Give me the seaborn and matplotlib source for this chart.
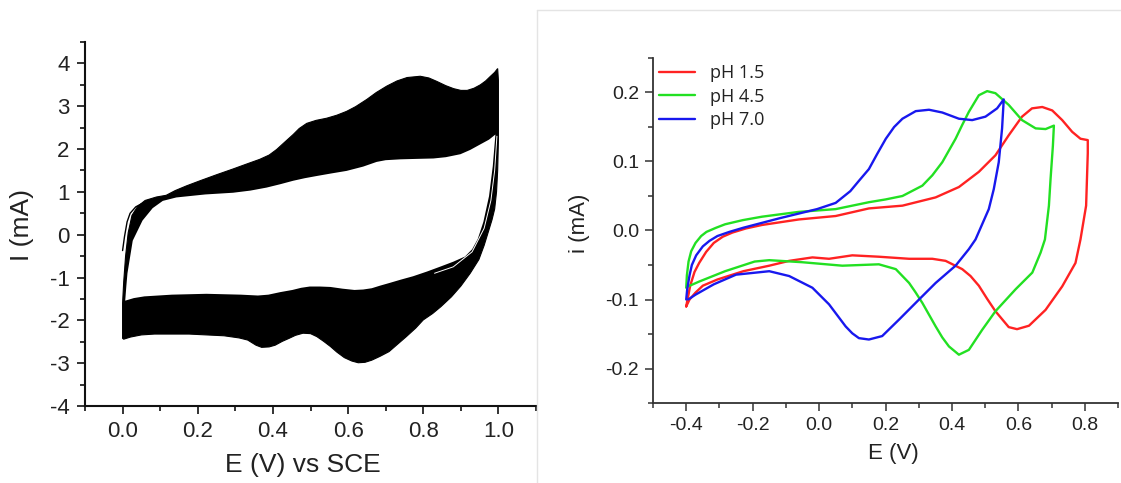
import numpy as np
import pandas as pd
import matplotlib
matplotlib.use("Agg")
import matplotlib.pyplot as plt
from matplotlib.ticker import MultipleLocator, FormatStrFormatter
import seaborn as sns

# ---- left panel: band of repeated CV cycles (outer contour and inner hole) ----
outer_E = [0.000, 0.000, 0.003, 0.008, 0.015, 0.025, 0.040, 0.060, 0.090, 0.116, 0.140, 0.170,
           0.205, 0.250, 0.294, 0.330, 0.365, 0.390, 0.410, 0.430, 0.454, 0.470, 0.490, 0.515,
           0.543, 0.570, 0.596, 0.620, 0.650, 0.675, 0.703, 0.730, 0.757, 0.792, 0.815, 0.836,
           0.860, 0.881, 0.900, 0.917, 0.935, 0.952, 0.966, 0.979, 0.990, 0.998,
           1.000, 1.000, 0.998, 0.995, 0.990, 0.983, 0.975, 0.962, 0.948, 0.925, 0.900, 0.875,
           0.847, 0.825, 0.800, 0.780, 0.755, 0.730, 0.709, 0.685, 0.663, 0.645, 0.627, 0.610,
           0.590, 0.570, 0.553, 0.535, 0.517, 0.500, 0.480, 0.460, 0.443, 0.425, 0.406, 0.390,
           0.370, 0.355, 0.333, 0.310, 0.270, 0.177, 0.085, 0.050, 0.021, 0.003]
outer_I = [-2.42, -1.60, -1.10, -0.50, 0.05, 0.45, 0.66, 0.80, 0.88, 0.92, 1.03, 1.14,
           1.256, 1.40, 1.535, 1.65, 1.76, 1.86, 1.99, 2.15, 2.34, 2.48, 2.60, 2.67,
           2.72, 2.79, 2.88, 2.99, 3.16, 3.32, 3.47, 3.59, 3.67, 3.70, 3.66, 3.58,
           3.48, 3.41, 3.37, 3.37, 3.42, 3.50, 3.59, 3.70, 3.79, 3.88,
           3.60, 2.20, 1.50, 1.00, 0.60, 0.35, 0.12, -0.25, -0.58, -0.90, -1.20, -1.45,
           -1.68, -1.84, -1.99, -2.18, -2.38, -2.57, -2.73, -2.84, -2.93, -2.98, -2.99, -2.95,
           -2.87, -2.74, -2.61, -2.49, -2.38, -2.31, -2.30, -2.35, -2.42, -2.49, -2.58, -2.62,
           -2.63, -2.58, -2.46, -2.41, -2.36, -2.32, -2.32, -2.34, -2.39, -2.44]

inner_E = [0.007, 0.030, 0.058, 0.131, 0.223, 0.315, 0.360, 0.388, 0.420, 0.452, 0.475, 0.498,
           0.525, 0.553, 0.585, 0.617, 0.640, 0.663, 0.685, 0.709, 0.740, 0.773, 0.810, 0.847,
           0.880, 0.911, 0.930, 0.945, 0.960, 0.975, 0.985, 0.992,
           0.975, 0.952, 0.925, 0.899, 0.860, 0.827, 0.780, 0.739, 0.700, 0.676, 0.640, 0.596,
           0.555, 0.516, 0.485, 0.454, 0.420, 0.383, 0.340, 0.294, 0.220, 0.143, 0.107, 0.080,
           0.053, 0.027, 0.013, 0.010]
inner_I = [-1.54, -1.48, -1.44, -1.40, -1.38, -1.40, -1.42, -1.40, -1.34, -1.29, -1.24, -1.21,
           -1.21, -1.22, -1.26, -1.29, -1.28, -1.25, -1.19, -1.13, -1.05, -0.97, -0.86, -0.74,
           -0.63, -0.51, -0.34, -0.10, 0.30, 0.90, 1.60, 2.34,
           2.22, 2.11, 1.98, 1.88, 1.81, 1.78, 1.77, 1.76, 1.74, 1.70, 1.59, 1.49,
           1.43, 1.37, 1.32, 1.26, 1.18, 1.10, 1.03, 0.98, 0.94, 0.87, 0.79, 0.62,
           0.33, -0.14, -0.90, -1.20]

# first-cycle trace at the start, separated from the band
start_E = [0.000, 0.005, 0.012, 0.020, 0.035, 0.050, 0.070]
start_I = [-0.37, -0.05, 0.30, 0.50, 0.65, 0.72, 0.80]

# early-cycle trace on the reverse sweep (shows as a light gap in the band)
gap_E = [0.996, 0.990, 0.980, 0.962, 0.930, 0.880, 0.830]
gap_I = [2.30, 1.50, 0.80, 0.15, -0.40, -0.75, -0.90]

# ---- right panel: CVs at three pH values ----
red_E = [-0.400, -0.396, -0.388, -0.375, -0.361, -0.340, -0.317, -0.290, -0.261, -0.220, -0.172,
         -0.061, 0.050, 0.150, 0.251, 0.351, 0.421, 0.481, 0.531, 0.571, 0.611, 0.641, 0.672,
         0.702, 0.732, 0.762, 0.787, 0.809, 0.809, 0.804, 0.787, 0.772, 0.732, 0.682, 0.632,
         0.596, 0.571, 0.531, 0.506, 0.481, 0.456, 0.431, 0.381, 0.341, 0.271, 0.180, 0.100,
         0.030, -0.020, -0.090, -0.150, -0.228, -0.306, -0.350, -0.372, -0.390, -0.400]
red_i = [-0.110, -0.100, -0.080, -0.060, -0.047, -0.031, -0.018, -0.009, -0.003, 0.003, 0.008,
         0.016, 0.021, 0.032, 0.036, 0.048, 0.063, 0.085, 0.109, 0.138, 0.165, 0.177, 0.179,
         0.174, 0.160, 0.143, 0.133, 0.131, 0.112, 0.036, -0.013, -0.047, -0.081, -0.115, -0.138,
         -0.143, -0.140, -0.117, -0.099, -0.080, -0.066, -0.056, -0.044, -0.041, -0.041, -0.038, -0.036,
         -0.041, -0.039, -0.044, -0.051, -0.059, -0.071, -0.080, -0.090, -0.100, -0.110]

green_E = [-0.400, -0.398, -0.393, -0.385, -0.372, -0.355, -0.339, -0.310, -0.283, -0.230, -0.172,
           -0.061, 0.050, 0.150, 0.200, 0.251, 0.311, 0.341, 0.371, 0.411, 0.431, 0.451, 0.481,
           0.506, 0.531, 0.571, 0.611, 0.652, 0.682, 0.707, 0.704, 0.697, 0.692, 0.680, 0.667,
           0.642, 0.592, 0.531, 0.491, 0.451, 0.421, 0.391, 0.371, 0.351, 0.311, 0.291, 0.271,
           0.231, 0.180, 0.070, -0.050, -0.150, -0.194, -0.283, -0.361, -0.394]
green_i = [-0.083, -0.065, -0.045, -0.030, -0.018, -0.008, -0.002, 0.004, 0.009, 0.015, 0.020,
           0.027, 0.031, 0.041, 0.045, 0.050, 0.065, 0.080, 0.099, 0.133, 0.153, 0.172, 0.196,
           0.202, 0.199, 0.182, 0.160, 0.148, 0.147, 0.152, 0.123, 0.075, 0.036, -0.013, -0.032,
           -0.061, -0.085, -0.117, -0.144, -0.173, -0.180, -0.168, -0.155, -0.139, -0.105, -0.090, -0.076,
           -0.056, -0.049, -0.051, -0.046, -0.043, -0.045, -0.059, -0.074, -0.081]

blue_E = [-0.400, -0.397, -0.390, -0.383, -0.370, -0.350, -0.330, -0.306, -0.270, -0.228, -0.117,
          -0.006, 0.050, 0.094, 0.120, 0.150, 0.175, 0.201, 0.226, 0.251, 0.291, 0.331, 0.371,
          0.421, 0.461, 0.501, 0.536, 0.556, 0.551, 0.541, 0.526, 0.511, 0.471, 0.451, 0.411,
          0.351, 0.301, 0.241, 0.190, 0.150, 0.120, 0.100, 0.080, 0.030, -0.020, -0.090, -0.150,
          -0.250, -0.317, -0.372, -0.394]
blue_i = [-0.100, -0.085, -0.065, -0.050, -0.036, -0.023, -0.015, -0.008, -0.002, 0.004, 0.018,
          0.031, 0.040, 0.057, 0.072, 0.089, 0.111, 0.133, 0.150, 0.162, 0.173, 0.175, 0.171,
          0.162, 0.160, 0.165, 0.177, 0.190, 0.148, 0.099, 0.060, 0.031, -0.013, -0.027, -0.051,
          -0.076, -0.100, -0.129, -0.153, -0.158, -0.156, -0.149, -0.139, -0.107, -0.083, -0.066, -0.059,
          -0.064, -0.078, -0.093, -0.100]

ph_labels = ["pH 1.5", "pH 4.5", "pH 7.0"]
ph_colors = ["#ff2222", "#22e022", "#1818ee"]

sns.set_theme(style="ticks")
plt.rcParams["font.family"] = ["Liberation Sans", "DejaVu Sans"]
plt.rcParams["axes.unicode_minus"] = False

fig = plt.figure(figsize=(11.21, 4.83), dpi=100)
fig.patch.set_facecolor("white")

# thin frame of the right-hand picture
fig.add_artist(plt.Line2D([537 / 1121, 1.0], [1 - 10 / 483, 1 - 10 / 483], color="#e4e4e4", lw=1.0))
fig.add_artist(plt.Line2D([537 / 1121, 537 / 1121], [0.0, 1 - 10 / 483], color="#e4e4e4", lw=1.0))

ax1 = fig.add_axes([85 / 1121, 77 / 483, 451 / 1121, 364 / 483])
ax2 = fig.add_axes([653 / 1121, 80 / 483, 465 / 1121, 345 / 483])

# left panel
ax1.fill(outer_E, outer_I, color="black", lw=0.8, zorder=2)
ax1.fill(inner_E, inner_I, color="white", lw=0, zorder=3)
sns.lineplot(x=start_E, y=start_I, sort=False, estimator=None, color="black", lw=1.0, ax=ax1, zorder=4)
sns.lineplot(x=gap_E, y=gap_I, sort=False, estimator=None, color="white", lw=0.7, ax=ax1, zorder=4)

ax1.set_xlim(-0.1, 1.1)
ax1.set_ylim(-4, 4.5)
ax1.set_xticks([0.0, 0.2, 0.4, 0.6, 0.8, 1.0])
ax1.xaxis.set_minor_locator(MultipleLocator(0.1))
ax1.yaxis.set_major_locator(MultipleLocator(1))
ax1.yaxis.set_minor_locator(MultipleLocator(0.5))
ax1.xaxis.set_major_formatter(FormatStrFormatter("%.1f"))
ax1.set_xlabel("E (V) vs SCE", fontsize=19, color="#222222")
ax1.set_ylabel("I (mA)", fontsize=19, color="#222222")
ax1.xaxis.set_label_coords(0.483, -0.162)
ax1.yaxis.set_label_coords(-0.14, 0.497)
ax1.xaxis.label.set_va("center")
ax1.yaxis.label.set_va("center")
ax1.tick_params(axis="both", which="major", labelsize=16, length=6, width=1.2, pad=5,
                direction="out", colors="#111111", labelcolor="#222222")
ax1.tick_params(axis="both", which="minor", length=3.5, width=1.2, direction="out", colors="#111111")
for s in ["top", "right"]:
    ax1.spines[s].set_visible(False)
for s in ["left", "bottom"]:
    ax1.spines[s].set_linewidth(1.5)
    ax1.spines[s].set_color("#111111")

# right panel
curves = [(red_E, red_i), (green_E, green_i), (blue_E, blue_i)]
for (E, i), lab, col in zip(curves, ph_labels, ph_colors):
    df = pd.DataFrame({"E": E, "i": i})
    sns.lineplot(data=df, x="E", y="i", sort=False, estimator=None, color=col, lw=1.7,
                 label=lab, ax=ax2)
for ln in ax2.lines:
    ln.set_solid_joinstyle("round")

ax2.set_xlim(-0.5, 0.9)
ax2.set_ylim(-0.25, 0.25)
ax2.set_xticks([-0.4, -0.2, 0.0, 0.2, 0.4, 0.6, 0.8])
ax2.xaxis.set_minor_locator(MultipleLocator(0.1))
ax2.set_yticks([-0.2, -0.1, 0.0, 0.1, 0.2])
ax2.yaxis.set_minor_locator(MultipleLocator(0.05))
ax2.xaxis.set_major_formatter(FormatStrFormatter("%.1f"))
ax2.yaxis.set_major_formatter(FormatStrFormatter("%.1f"))
ax2.set_xlabel("E (V)", fontsize=16, color="#222222")
ax2.set_ylabel("i (mA)", fontsize=16, color="#222222")
ax2.xaxis.set_label_coords(0.518, -0.145)
ax2.yaxis.set_label_coords(-0.159, 0.52)
ax2.xaxis.label.set_va("center")
ax2.yaxis.label.set_va("center")
ax2.tick_params(axis="both", which="major", labelsize=14, length=6, width=1.1, pad=4,
                direction="out", colors="#333333", labelcolor="#222222")
ax2.tick_params(axis="both", which="minor", length=3.5, width=1.1, direction="out", colors="#333333")
for s in ["top", "right"]:
    ax2.spines[s].set_visible(False)
for s in ["left", "bottom"]:
    ax2.spines[s].set_linewidth(1.3)
    ax2.spines[s].set_color("#333333")

leg = ax2.legend(loc="upper left", bbox_to_anchor=(0.0, 1.0), frameon=False,
                 prop={"family": ["Open Sans", "DejaVu Sans"], "size": 13},
                 handlelength=2.0, handletextpad=0.8, labelspacing=0.3,
                 borderaxespad=0.0, borderpad=0.35)
for t in leg.get_texts():
    t.set_color("#222222")

fig.savefig("out.png", dpi=100)
